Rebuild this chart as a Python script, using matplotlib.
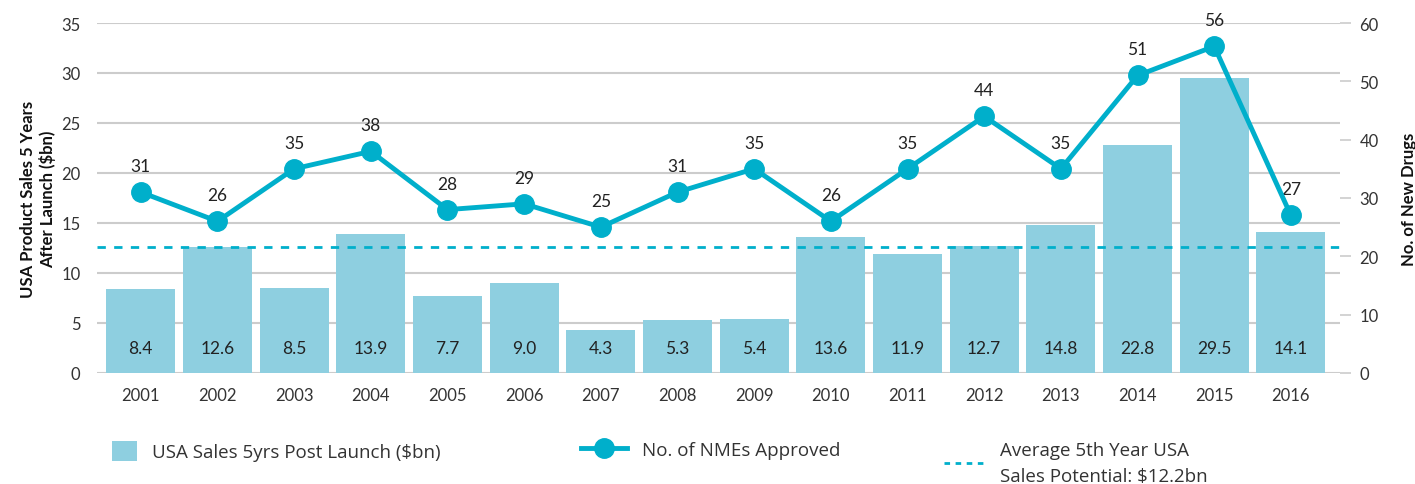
import numpy as np
import matplotlib.pyplot as plt
from matplotlib.patches import Patch
from matplotlib.lines import Line2D

# Chart data
years = ["2001", "2002", "2003", "2004", "2005", "2006", "2007", "2008",
         "2009", "2010", "2011", "2012", "2013", "2014", "2015", "2016"]
sales = [8.4, 12.6, 8.5, 13.9, 7.7, 9.0, 4.3, 5.3, 5.4, 13.6, 11.9, 12.7, 14.8, 22.8, 29.5, 14.1]
nmes = [31, 26, 35, 38, 28, 29, 25, 31, 35, 26, 35, 44, 35, 51, 56, 27]
avg_line = 12.6  # where the dashed line sits on the left axis
avg_label = "Average 5th Year USA\nSales Potential: $12.2bn"

bar_color = "#8ecfe0"
line_color = "#00afcb"
text_color = "#333333"
grid_color = "#cccccc"

plt.rcParams["font.family"] = ["Lato", "DejaVu Sans"]

fig = plt.figure(figsize=(14.15, 4.85), dpi=100)
ax = fig.add_axes([0.0686, 0.229, 0.8784, 0.7215])
ax2 = ax.twinx()

x = np.arange(len(years))
bars = ax.bar(x, sales, width=0.9, color=bar_color, zorder=2)
for xi, v in zip(x, sales):
    ax.text(xi, 2.5, f"{v:.1f}", ha="center", va="center", fontsize=12.5, color="#222222", zorder=3)

ax.axhline(avg_line, color=line_color, linestyle=(0, (3, 3)), linewidth=2, zorder=3)

ax2.plot(x, nmes, color=line_color, linewidth=3.5, marker="o", markersize=14, zorder=4)
for xi, v in zip(x, nmes):
    ax2.annotate(str(v), (xi, v), xytext=(0, 13), textcoords="offset points",
                 ha="center", va="bottom", fontsize=12.5, color="#222222")

ax.set_xlim(-0.57, 15.64)
ax.set_ylim(0, 35)
ax.set_yticks(np.arange(0, 36, 5))
ax2.set_ylim(0, 60)
ax2.set_yticks(np.arange(0, 61, 10))
ax.set_xticks(x)
ax.set_xticklabels(years)

ax.grid(axis="y", color=grid_color, linewidth=1.5, zorder=0)
ax.set_axisbelow(True)
for a in (ax, ax2):
    for s in a.spines.values():
        s.set_visible(False)
ax.tick_params(axis="both", length=0, labelsize=12, labelcolor=text_color, pad=10)
ax.tick_params(axis="y", pad=12)
ax2.tick_params(axis="y", length=8, color=grid_color, width=1.2, labelsize=12,
                labelcolor=text_color, pad=6)
ax2.set_zorder(ax.get_zorder() + 1)
ax2.patch.set_visible(False)

ax.set_ylabel("USA Product Sales 5 Years\nAfter Launch ($bn)", fontsize=12,
              fontweight="bold", color="#111111", labelpad=4)
ax2.set_ylabel("No. of New Drugs", fontsize=12, fontweight="bold", color="#111111", labelpad=16)

# Legend, three separate entries along the bottom
leg_kw = dict(frameon=False, loc="upper left", handletextpad=0.8, borderaxespad=0,
              prop={"family": ["Open Sans", "DejaVu Sans"], "size": 13.5})
h1 = Patch(facecolor=bar_color, edgecolor="none")
h2 = Line2D([], [], color=line_color, linewidth=3.5, marker="o", markersize=14)
h3 = Line2D([], [], color=line_color, linewidth=2, linestyle=(0, (2, 2)))
l1 = fig.legend([h1], ["USA Sales 5yrs Post Launch ($bn)"], bbox_to_anchor=(0.074, 0.105),
                handlelength=1.3, handleheight=1.3, **leg_kw)
l2 = fig.legend([h2], ["No. of NMEs Approved"], bbox_to_anchor=(0.405, 0.105),
                handlelength=2.5, **leg_kw)
l3 = fig.legend([h3], [avg_label], bbox_to_anchor=(0.662, 0.105),
                handlelength=2.2, **leg_kw)
for leg in (l1, l2, l3):
    for t in leg.get_texts():
        t.set_color(text_color)
        t.set_linespacing(1.6)

fig.savefig("out.png", dpi=100)
